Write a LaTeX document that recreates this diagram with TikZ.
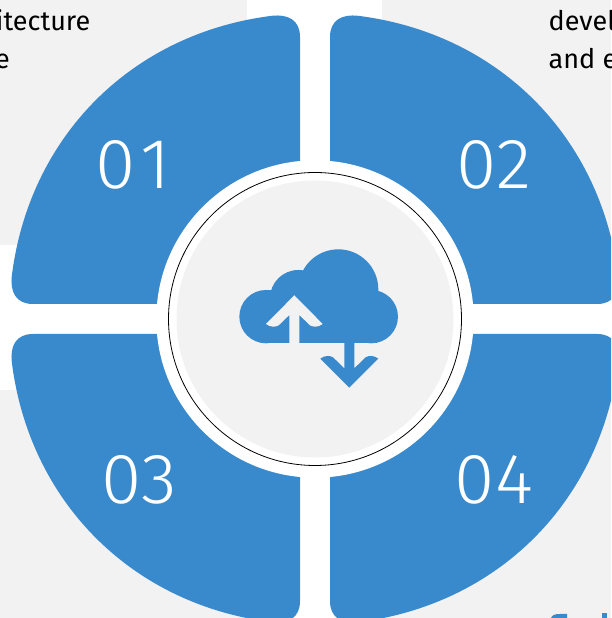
\documentclass[tikz,border=0pt]{standalone}
\usepackage{fontspec}
\setmainfont{Fira Sans}
\newfontfamily\numfont[FakeStretch=1.03]{Fira Sans Light}
\definecolor{tileblue}{HTML}{398ACC}
\definecolor{panelgray}{HTML}{F2F2F2}
\tikzset{
  panel/.style={fill=panelgray,draw=none},
  tile/.style={fill=tileblue,draw=none},
  tilenum/.style={text=white,font=\numfont\fontsize{71}{71}\selectfont,inner sep=0pt,anchor=center},
  bodytext/.style={text=black,font=\fontsize{27}{37}\selectfont,inner sep=0pt,anchor=base west},
}
\newcommand{\tileshape}{(-15,15) -- (-15,282) .. controls (-15,299) and (-27,305) .. (-43,303.2)
  .. controls (-183,285.7) and (-285.7,183) .. (-303.2,43)
  .. controls (-305,27) and (-299,15) .. (-282,15) -- cycle}
\begin{document}
\begin{tikzpicture}[x=1pt,y=1pt]
\useasboundingbox (0,0) rectangle (611,618);
\clip (0,0) rectangle (611,618);
\fill[white] (0,0) rectangle (611,618);
% panels (y up: 618-y)
\fill[panel] (0,373) rectangle (247,618);
\fill[panel] (382,373) rectangle (611,618);
\fill[panel] (0,0) rectangle (247,228);
\fill[panel] (382,0) rectangle (611,228);
% text fragments
\node[bodytext,anchor=base east] (t1) at (90.5,587) {itecture};
\node[bodytext,anchor=base east] (t2) at (10,549) {e};
\node[bodytext] (t3) at (548.5,587) {devel};
\node[bodytext] (t4) at (548.5,549) {and e};
% tops of the letters cut by the lower edge
\fill[tileblue] (551,0) .. controls (552,3) and (555,4) .. (560,4) -- (567,4) -- (567,0) -- cycle;
\fill[tileblue] (602,0) rectangle (607,5);
% tiles
\coordinate (C) at (315,299);
\begin{scope}[shift={(C)}]
  \fill[tile] \tileshape;
  \begin{scope}[xscale=-1]\fill[tile] \tileshape;\end{scope}
  \begin{scope}[yscale=-1]\fill[tile] \tileshape;\end{scope}
  \begin{scope}[xscale=-1,yscale=-1]\fill[tile] \tileshape;\end{scope}
\end{scope}
% hub
\node[circle,fill=white,draw=none,minimum size=317.4pt,inner sep=0pt] (hubwhite) at (C) {};
\node[circle,draw=black,line width=0.8pt,fill=white,minimum size=293pt,inner sep=0pt] (hubring) at (C) {};
\node[circle,fill=panelgray,draw=none,minimum size=277pt,inner sep=0pt] (hubgray) at (C) {};
% numbers
\node[tilenum] (n1) at (133,453) {0\kern5pt 1};
\node[tilenum] (n2) at (494,453) {02};
\node[tilenum] (n3) at (139,138) {03};
\node[tilenum] (n4) at (494,138) {04};
% cloud icon, in units of the 3x zoom
\begin{scope}[shift={(200,398)},x=0.3333pt,y=-0.3333pt]
  \fill[tileblue] (198,290) circle[radius=80];
  \fill[tileblue] (514,290) circle[radius=80];
  \fill[tileblue] (295,235) circle[radius=85];
  \fill[tileblue] (415,208) circle[radius=120];
  \fill[tileblue] (198,210) rectangle (514,370);
  % up arrow
  \fill[panelgray] (283,226) -- (368,312) .. controls (355,322) and (340,322) .. (330,316)
     -- (298,285) -- (298,371) -- (268,371) -- (268,285) -- (236,316)
     .. controls (226,322) and (211,322) .. (198,312) -- cycle;
  % down arrow
  \fill[tileblue] (448,503) -- (361,416) .. controls (374,406) and (389,406) .. (399,412)
     -- (433,445) -- (433,369) -- (463,369) -- (463,445) -- (497,412)
     .. controls (507,406) and (522,406) .. (535,416) -- cycle;
\end{scope}
\end{tikzpicture}
\end{document}
